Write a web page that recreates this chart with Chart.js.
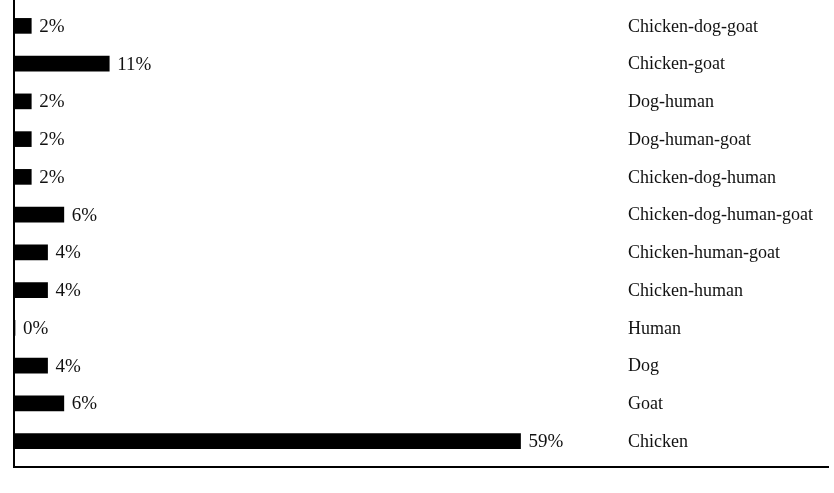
<!DOCTYPE html>
<html>
<head>
<meta charset="utf-8">
<script src="https://cdn.jsdelivr.net/npm/chart.js@4"></script>
<style>
  html, body { margin: 0; padding: 0; background: #fff; }
  #wrap { width: 834px; height: 493px; }
</style>
</head>
<body>
<div id="wrap"><canvas id="hostChart"></canvas></div>
<script>
// host combinations, top to bottom
const categories = [
  "Chicken-dog-goat",
  "Chicken-goat",
  "Dog-human",
  "Dog-human-goat",
  "Chicken-dog-human",
  "Chicken-dog-human-goat",
  "Chicken-human-goat",
  "Chicken-human",
  "Human",
  "Dog",
  "Goat",
  "Chicken"
];
// bar lengths (%)
const shares = [1.9, 11, 1.9, 1.9, 1.9, 5.7, 3.8, 3.8, 0, 3.8, 5.7, 59];
// printed labels next to the bars
const shareLabels = ["2%", "11%", "2%", "2%", "2%", "6%", "4%", "4%", "0%", "4%", "6%", "59%"];

const serif = '"Liberation Serif", "Times New Roman", serif';

// value labels, category names and the two axis lines
const annotate = {
  id: "annotate",
  afterDatasetsDraw(chart) {
    const ctx = chart.ctx;
    const x = chart.scales.x;
    const y = chart.scales.y;
    const area = chart.chartArea;
    ctx.save();
    ctx.fillStyle = "#111";
    ctx.textBaseline = "middle";
    ctx.textAlign = "left";
    categories.forEach((name, i) => {
      const yc = y.getPixelForValue(i);
      ctx.font = "19px " + serif;
      ctx.fillText(shareLabels[i], x.getPixelForValue(shares[i]) + 8, yc + 1);
      ctx.font = "18px " + serif;
      ctx.fillText(name, area.left + 613, yc + 1);
    });
    // axis lines
    ctx.strokeStyle = "#000";
    ctx.lineWidth = 2;
    ctx.beginPath();
    ctx.moveTo(area.left - 1, 0);
    ctx.lineTo(area.left - 1, area.bottom + 7);
    ctx.lineTo(area.right, area.bottom + 7);
    ctx.stroke();
    ctx.restore();
  }
};

new Chart(document.getElementById("hostChart"), {
  type: "bar",
  data: {
    labels: categories,
    datasets: [
      {
        data: shares,
        backgroundColor: "#000",
        borderWidth: 0,
        barThickness: 15
      }
    ]
  },
  options: {
    indexAxis: "y",
    responsive: true,
    maintainAspectRatio: false,
    animation: false,
    layout: { padding: { top: 7, bottom: 33, left: 15, right: 5 } },
    plugins: {
      legend: { display: false },
      tooltip: { enabled: false }
    },
    scales: {
      x: { display: false, min: 0, max: 95 },
      y: { display: false }
    }
  },
  plugins: [annotate]
});
</script>
</body>
</html>
